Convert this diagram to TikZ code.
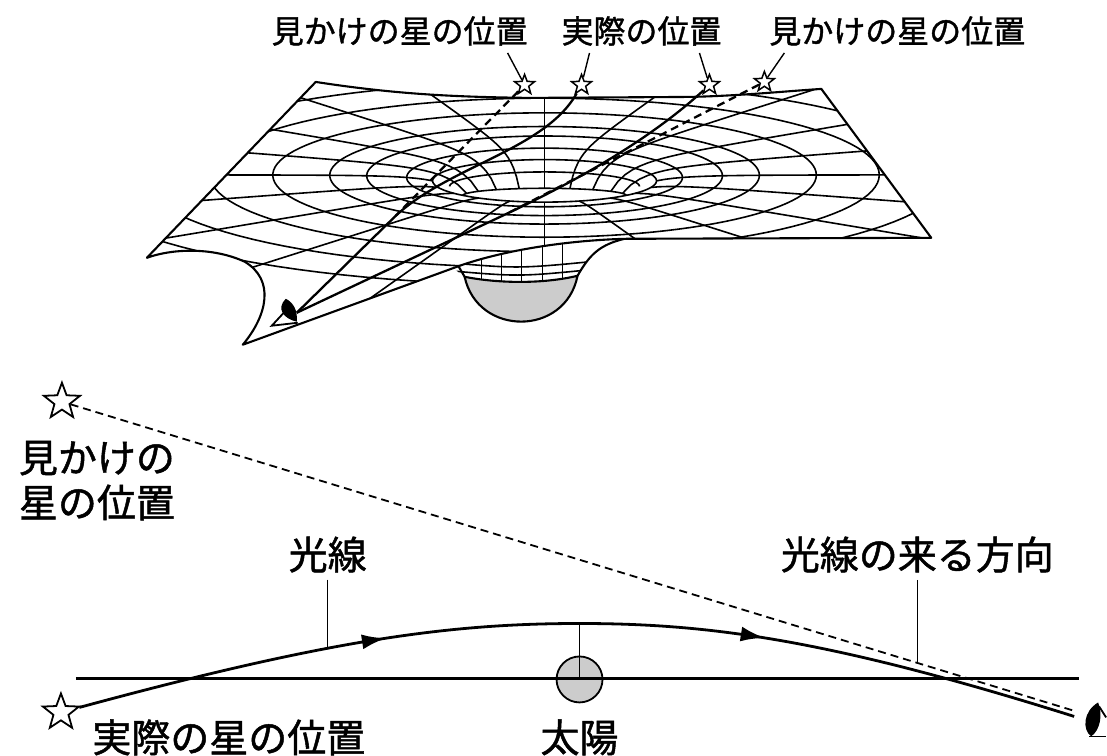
\documentclass[tikz,border=0pt]{standalone}
\usepackage{fontspec}
\newfontfamily\jp[FakeBold=1.2]{Noto Sans CJK JP}
\usetikzlibrary{shapes,arrows.meta,positioning,calc,decorations.markings}

\tikzset{
  declare function={cr(\r)=175+6*(112/\r)^4; kr(\r)=0.23-0.04*(112/\r)^4;},
  meshline/.style={line width=1.6pt},
  sheetedge/.style={line width=2.1pt, line join=round},
  lightray/.style={line width=2.3pt},
  leader/.style={line width=1.4pt},
  starnode/.style={star, star points=5, star point ratio=2.4, draw, line width=1.5pt, fill=white, inner sep=0pt},
  toplbl/.style={font=\jp\fontsize{32}{36}\selectfont, inner sep=0pt},
  botlbl/.style={font=\jp\fontsize{39}{45}\selectfont, inner sep=0pt},
}
\def\sheetpath{(316,82) .. controls (400,95) and (460,97) .. (530,98) -- (690,97) .. controls (740,96) and (790,91) .. (822,89) -- (932,238) -- (625,239) .. controls (560,241) and (500,252) .. (460,266) -- (243,345) .. controls (268,315) and (275,280) .. (245,262) .. controls (215,248) and (175,248) .. (147,258) -- cycle}

\begin{document}
\begin{tikzpicture}[x=1pt, y=-1pt]
    \fill[white] (0,0) rectangle (1107,755);

    % funnel below the sheet
    \begin{scope}
        \clip (445,262) -- (465,277) .. controls (500,284) and (545,284) .. (578,276) .. controls (590,255) and (600,245) .. (625,239) -- (625,225) -- (445,225) -- cycle;
        \foreach \x in {482,502,522,543,563}
            \draw[meshline] (\x,230) -- (\x,290);
        \draw[meshline] (450,263) .. controls (520,269) .. (610,260);
        \draw[meshline] (450,271) .. controls (520,277) .. (600,269);
    \end{scope}
    \filldraw[sheetedge, fill=gray!40] (465,277) .. controls (500,284) and (545,284) .. (578,276) .. controls (566,337) and (478,337) .. (465,277) -- cycle;
    \draw[sheetedge] (458,265) -- (465,277);
    \draw[sheetedge] (578,276) .. controls (590,255) and (600,245) .. (625,239);

    % the sheet
    \fill[white] \sheetpath;
    \begin{scope}
        \clip \sheetpath;
        \foreach \r in {112,138,178,215,272,335,405,480}
            \draw[meshline] plot[domain=0:360, samples=120, variable=\t] ({545+\r*cos(\t)},{cr(\r)-kr(\r)*\r*sin(\t)});
        \foreach \r in {82,95}
            \draw[meshline] plot[domain=0:180, samples=60, variable=\t] ({545+\r*cos(\t)},{cr(\r)-kr(\r)*\r*sin(\t)});
        \foreach \a in {18,36,...,162}
            \draw[meshline] plot[domain=82:700, samples=70, variable=\s] ({545+\s*cos(\a)},{cr(\s)-kr(\s)*\s*sin(\a)});
        \foreach \a in {180,198,...,360}
            \draw[meshline] plot[domain=112:700, samples=70, variable=\s] ({545+\s*cos(\a)},{cr(\s)-kr(\s)*\s*sin(\a)});
    \end{scope}
    \draw[sheetedge] \sheetpath;

    % stars and rays on the sheet
    \node[starnode, minimum size=21pt] (s1) at (525,85) {};
    \node[starnode, minimum size=21pt] (s2) at (582,85) {};
    \node[starnode, minimum size=21pt] (s3) at (710,85) {};
    \node[starnode, minimum size=21pt] (s4) at (765,82) {};
    \coordinate (eye) at (297,313);
    \coordinate (b1) at (396,216);
    \coordinate (b2) at (507,214);
    \draw[lightray, dash pattern=on 8pt off 5pt] (s1) -- (b1);
    \draw[lightray, dash pattern=on 8pt off 5pt] (s4) -- (b2);
    \draw[lightray] (s2) .. controls (545,150) and (450,166) .. (b1) -- (eye);
    \draw[lightray] (s3) .. controls (650,140) and (577,181) .. (b2) -- (eye);
    \draw[line width=1.8pt, line join=miter] (284,313) -- (272,326) -- (298,323);
    \fill (286,299) .. controls (276,309) and (284,319) .. (297,322) .. controls (298,311) and (294,303) .. (286,299);

    \node[toplbl] (lapp1) at (400,31) {見かけの星の位置};
    \node[toplbl] (lreal1) at (642,31) {実際の位置};
    \node[toplbl] (lapp2) at (898,31) {見かけの星の位置};
    \coordinate (t1) at (508,53);
    \coordinate (t2) at (590,53);
    \coordinate (t3) at (700,53);
    \coordinate (t4) at (785,53);
    \draw[leader] (t1) -- (s1);
    \draw[leader] (t2) -- (s2);
    \draw[leader] (t3) -- (s3);
    \draw[leader] (t4) -- (s4);

    % lower diagram
    \node[starnode, minimum size=38pt, line width=1.8pt] (sapp) at (62,402) {};
    \node[starnode, minimum size=38pt, line width=1.8pt] (sreal) at (61,713) {};
    \node[circle, draw, line width=1.8pt, fill=gray!40, minimum size=46pt, inner sep=0pt] (sun) at (580,680) {};
    \coordinate (axl) at (76,679);
    \coordinate (axr) at (1080,679);
    \coordinate (peak) at (580,624);
    \coordinate (rayend) at (1075,717);
    \coordinate (dashend) at (1077,712);
    \draw[line width=2.8pt] (axl) -- (axr);
    \draw[leader] (peak) -- (sun.center);
    \draw[line width=1.8pt, dash pattern=on 8pt off 5pt] (sapp) -- (dashend);
    \draw[line width=2.8pt, postaction={decorate}, decoration={markings,
        mark=at position 0.31 with {\arrow{Latex[length=24pt,width=15pt]}},
        mark=at position 0.685 with {\arrow{Latex[length=24pt,width=15pt]}}}]
        (sreal) .. controls (330,640) and (450,624) .. (peak) .. controls (710,624) and (830,640) .. (rayend);
    \fill (1099,703) .. controls (1084,712) and (1083,730) .. (1092,737) .. controls (1101,731) and (1104,715) .. (1099,703);
    \draw[line width=1.8pt] (1090,737) -- (1107,737);
    \draw[line width=1.8pt] (1100,707) -- (1107,718);

    \node[botlbl, align=left] (lapp) at (97,481) {見かけの\\星の位置};
    \node[botlbl] (lray) at (328,555) {光線};
    \node[botlbl] (ldir) at (918,555) {光線の来る方向};
    \node[botlbl] (lreal) at (229,738) {実際の星の位置};
    \node[botlbl] (lsun) at (580,738) {太陽};
    \coordinate (c1) at (328,648);
    \coordinate (c2) at (918,663);
    \draw[leader, shorten <=7pt] (lray) -- (c1);
    \draw[leader, shorten <=7pt] (ldir) -- (c2);
\end{tikzpicture}
\end{document}
